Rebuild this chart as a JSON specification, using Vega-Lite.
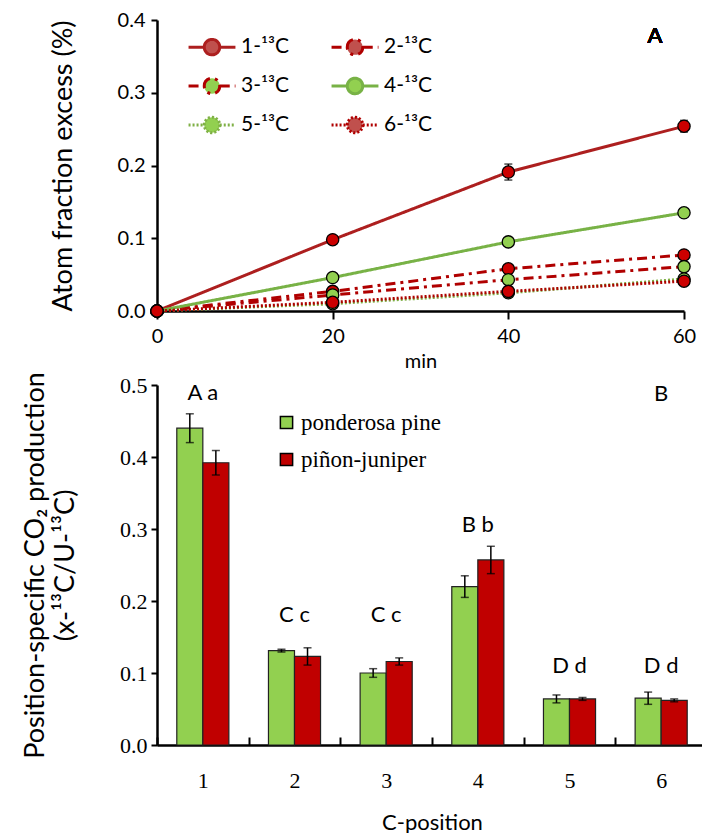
{
  "$schema": "https://vega.github.io/schema/vega-lite/v6.json",
  "padding": {"left": 21, "top": 10, "right": 0, "bottom": 0},
  "spacing": 0,
  "background": "white",
  "resolve": {"scale": {"fill": "independent"}, "legend": {"fill": "independent"}},
  "config": {
    "view": {"stroke": null},
    "axis": {"grid": false, "domainColor": "black", "tickColor": "black", "labelColor": "black", "titleColor": "black", "domainWidth": 2.5, "tickWidth": 2, "titleFontWeight": "normal"}
  },
  "datasets": {
    "atom": [
      {"series": "1-¹³C", "min": 0, "afe": 0.0, "err": 0},
      {"series": "1-¹³C", "min": 20, "afe": 0.098, "err": 0.003},
      {"series": "1-¹³C", "min": 40, "afe": 0.191, "err": 0.011},
      {"series": "1-¹³C", "min": 60, "afe": 0.254, "err": 0.008},
      {"series": "2-¹³C", "min": 0, "afe": 0.0, "err": 0},
      {"series": "2-¹³C", "min": 20, "afe": 0.027, "err": 0},
      {"series": "2-¹³C", "min": 40, "afe": 0.058, "err": 0},
      {"series": "2-¹³C", "min": 60, "afe": 0.077, "err": 0},
      {"series": "3-¹³C", "min": 0, "afe": 0.0, "err": 0},
      {"series": "3-¹³C", "min": 20, "afe": 0.022, "err": 0},
      {"series": "3-¹³C", "min": 40, "afe": 0.043, "err": 0},
      {"series": "3-¹³C", "min": 60, "afe": 0.061, "err": 0},
      {"series": "4-¹³C", "min": 0, "afe": 0.0, "err": 0},
      {"series": "4-¹³C", "min": 20, "afe": 0.046, "err": 0},
      {"series": "4-¹³C", "min": 40, "afe": 0.095, "err": 0},
      {"series": "4-¹³C", "min": 60, "afe": 0.135, "err": 0},
      {"series": "5-¹³C", "min": 0, "afe": 0.0, "err": 0},
      {"series": "5-¹³C", "min": 20, "afe": 0.010, "err": 0},
      {"series": "5-¹³C", "min": 40, "afe": 0.025, "err": 0},
      {"series": "5-¹³C", "min": 60, "afe": 0.044, "err": 0},
      {"series": "6-¹³C", "min": 0, "afe": 0.0, "err": 0},
      {"series": "6-¹³C", "min": 20, "afe": 0.012, "err": 0},
      {"series": "6-¹³C", "min": 40, "afe": 0.027, "err": 0},
      {"series": "6-¹³C", "min": 60, "afe": 0.041, "err": 0}
    ],
    "co2": [
      {"pos": 1, "site": "ponderosa pine", "val": 0.440, "err": 0.020},
      {"pos": 1, "site": "piñon-juniper", "val": 0.392, "err": 0.017},
      {"pos": 2, "site": "ponderosa pine", "val": 0.131, "err": 0.002},
      {"pos": 2, "site": "piñon-juniper", "val": 0.123, "err": 0.012},
      {"pos": 3, "site": "ponderosa pine", "val": 0.100, "err": 0.006},
      {"pos": 3, "site": "piñon-juniper", "val": 0.116, "err": 0.005},
      {"pos": 4, "site": "ponderosa pine", "val": 0.220, "err": 0.015},
      {"pos": 4, "site": "piñon-juniper", "val": 0.257, "err": 0.019},
      {"pos": 5, "site": "ponderosa pine", "val": 0.064, "err": 0.0055},
      {"pos": 5, "site": "piñon-juniper", "val": 0.064, "err": 0.002},
      {"pos": 6, "site": "ponderosa pine", "val": 0.065, "err": 0.0085},
      {"pos": 6, "site": "piñon-juniper", "val": 0.062, "err": 0.002}
    ],
    "letters": [
      {"pos": 1, "label": "A a", "ly": 0.489},
      {"pos": 2, "label": "C c", "ly": 0.181},
      {"pos": 3, "label": "C c", "ly": 0.181},
      {"pos": 4, "label": "B b", "ly": 0.305},
      {"pos": 5, "label": "D d", "ly": 0.110},
      {"pos": 6, "label": "D d", "ly": 0.110}
    ]
  },
  "vconcat": [
    {
      "width": 527,
      "height": 291,
      "data": {"name": "atom"},
      "layer": [
        {
          "mark": {"type": "line", "strokeWidth": 3},
          "encoding": {
            "x": {"field": "min", "type": "quantitative", "scale": {"domain": [0, 60], "nice": false}, "title": "min",
              "axis": {"values": [0, 20, 40, 60], "labelFont": "Lato", "labelFontSize": 20, "titleFont": "Lato", "titleFontSize": 20, "tickSize": 8, "labelPadding": 7, "titlePadding": 5, "labelFlush": false}},
            "y": {"field": "afe", "type": "quantitative", "scale": {"domain": [0, 0.4], "nice": false}, "title": "Atom fraction excess (%)",
              "axis": {"values": [0, 0.1, 0.2, 0.3, 0.4], "format": ".1f", "labelFont": "Lato", "labelFontSize": 20, "titleFont": "Lato", "titleFontSize": 27, "tickSize": 6, "labelPadding": 6, "titlePadding": 40}},
            "stroke": {"field": "series", "type": "nominal",
              "scale": {"domain": ["1-¹³C", "2-¹³C", "3-¹³C", "4-¹³C", "5-¹³C", "6-¹³C"], "range": ["#ad1f1f", "#b00000", "#b00000", "#78b246", "#7fb046", "#b00000"]},
              "legend": {"orient": "none", "direction": "horizontal", "legendX": 30, "legendY": 2, "columns": 2, "title": null,
                "symbolType": "M-1,0H-0.33M0.33,0H1M-0.33,0A0.33,0.33 0 1 1 0.33,0A0.33,0.33 0 1 1 -0.33,0Z",
                "symbolSize": 2200, "symbolStrokeWidth": 3, "labelFont": "Lato", "labelFontSize": 21, "labelColor": "black", "rowPadding": -20, "columnPadding": 35, "labelOffset": 4,
                "encode": {"symbols": {"update": {
                  "stroke": {"signal": "datum.value == '1-¹³C' ? '#ad1f1f' : datum.value == '3-¹³C' || datum.value == '4-¹³C' || datum.value == '5-¹³C' ? '#78b246' : '#b00000'"},
                  "fill": {"signal": "datum.value == '3-¹³C' || datum.value == '4-¹³C' || datum.value == '5-¹³C' ? '#92d050' : '#c0504d'"}
                }}}}},
            "strokeDash": {"field": "series", "type": "nominal",
              "scale": {"domain": ["1-¹³C", "2-¹³C", "3-¹³C", "4-¹³C", "5-¹³C", "6-¹³C"], "range": [[1, 0], [10, 5, 3, 5], [10, 5, 3, 5], [1, 0], [2, 2], [2, 2]]}}
          }
        },
        {
          "transform": [{"filter": "datum.err > 0"}],
          "mark": {"type": "errorbar", "ticks": {"size": 8}, "color": "black", "thickness": 1.5},
          "encoding": {
            "x": {"field": "min", "type": "quantitative", "title": "min"},
            "y": {"field": "afe", "type": "quantitative", "title": "Atom fraction excess (%)"},
            "yError": {"field": "err"}
          }
        },
        {
          "mark": {"type": "point", "filled": true, "size": 150, "stroke": "black", "strokeWidth": 1.3, "opacity": 1},
          "encoding": {
            "x": {"field": "min", "type": "quantitative", "title": "min"},
            "y": {"field": "afe", "type": "quantitative", "title": "Atom fraction excess (%)"},
            "fill": {"field": "series", "type": "nominal", "legend": null,
              "scale": {"domain": ["1-¹³C", "2-¹³C", "3-¹³C", "4-¹³C", "5-¹³C", "6-¹³C"], "range": ["#cc0000", "#cc0000", "#92d050", "#92d050", "#92d050", "#cc0000"]}}
          }
        },
        {
          "mark": {"type": "text", "font": "Lato", "fontSize": 22, "color": "black"},
          "encoding": {
            "x": {"datum": 56.7, "type": "quantitative"},
            "y": {"datum": 0.378, "type": "quantitative"},
            "text": {"value": "A"}
          }
        }
      ]
    },
    {
      "width": 550,
      "height": 360,
      "layer": [
        {
          "data": {"name": "co2"},
          "mark": {"type": "bar", "stroke": "#222222", "strokeWidth": 1.2},
          "encoding": {
            "x": {"field": "pos", "type": "nominal", "title": "C-position", "scale": {"paddingInner": 0, "paddingOuter": 0},
              "axis": {"labelAngle": 0, "labelFont": "Liberation Serif", "labelFontSize": 22, "titleFont": "Lato", "titleFontSize": 22, "tickBand": "extent", "tickSize": -8, "labelPadding": 33, "titlePadding": 21}},
            "xOffset": {"field": "site", "type": "nominal", "scale": {"domain": ["ponderosa pine", "piñon-juniper"], "paddingInner": 0, "paddingOuter": 0.76}},
            "y": {"field": "val", "type": "quantitative", "scale": {"domain": [0, 0.5], "nice": false}, "title": ["Position-specific CO₂ production", "(x-¹³C/U-¹³C)"],
              "axis": {"values": [0, 0.1, 0.2, 0.3, 0.4, 0.5], "format": ".1f", "titleLineHeight": 30, "labelFont": "Liberation Serif", "labelFontSize": 22, "titleFont": "Lato", "titleFontSize": 27, "tickSize": 6, "labelPadding": 4, "titlePadding": 40}},
            "fill": {"field": "site", "type": "nominal", "scale": {"domain": ["ponderosa pine", "piñon-juniper"], "range": ["#92d050", "#c00000"]},
              "legend": {"orient": "none", "legendX": 118, "legendY": 26, "title": null, "symbolType": "square", "symbolSize": 150, "symbolStrokeColor": "black", "symbolStrokeWidth": 1.5, "labelFont": "Liberation Serif", "labelFontSize": 23, "labelColor": "black", "rowPadding": 13, "labelOffset": 3}}
          }
        },
        {
          "data": {"name": "co2"},
          "mark": {"type": "errorbar", "ticks": {"size": 8}, "color": "black", "thickness": 1.5},
          "encoding": {
            "x": {"field": "pos", "type": "nominal", "title": "C-position"},
            "xOffset": {"field": "site", "type": "nominal"},
            "y": {"field": "val", "type": "quantitative", "title": ["Position-specific CO₂ production", "(x-¹³C/U-¹³C)"]},
            "yError": {"field": "err"}
          }
        },
        {
          "data": {"name": "letters"},
          "mark": {"type": "text", "font": "Lato", "fontSize": 22, "color": "black", "baseline": "middle"},
          "encoding": {
            "x": {"field": "pos", "type": "nominal", "title": "C-position"},
            "y": {"field": "ly", "type": "quantitative", "title": ["Position-specific CO₂ production", "(x-¹³C/U-¹³C)"]},
            "text": {"field": "label"}
          }
        },
        {
          "data": {"values": [{}]},
          "mark": {"type": "text", "font": "Lato", "fontSize": 22, "color": "black", "baseline": "middle"},
          "encoding": {
            "x": {"datum": 6, "type": "nominal"},
            "y": {"datum": 0.488, "type": "quantitative"},
            "text": {"value": "B"}
          }
        }
      ]
    }
  ]
}
